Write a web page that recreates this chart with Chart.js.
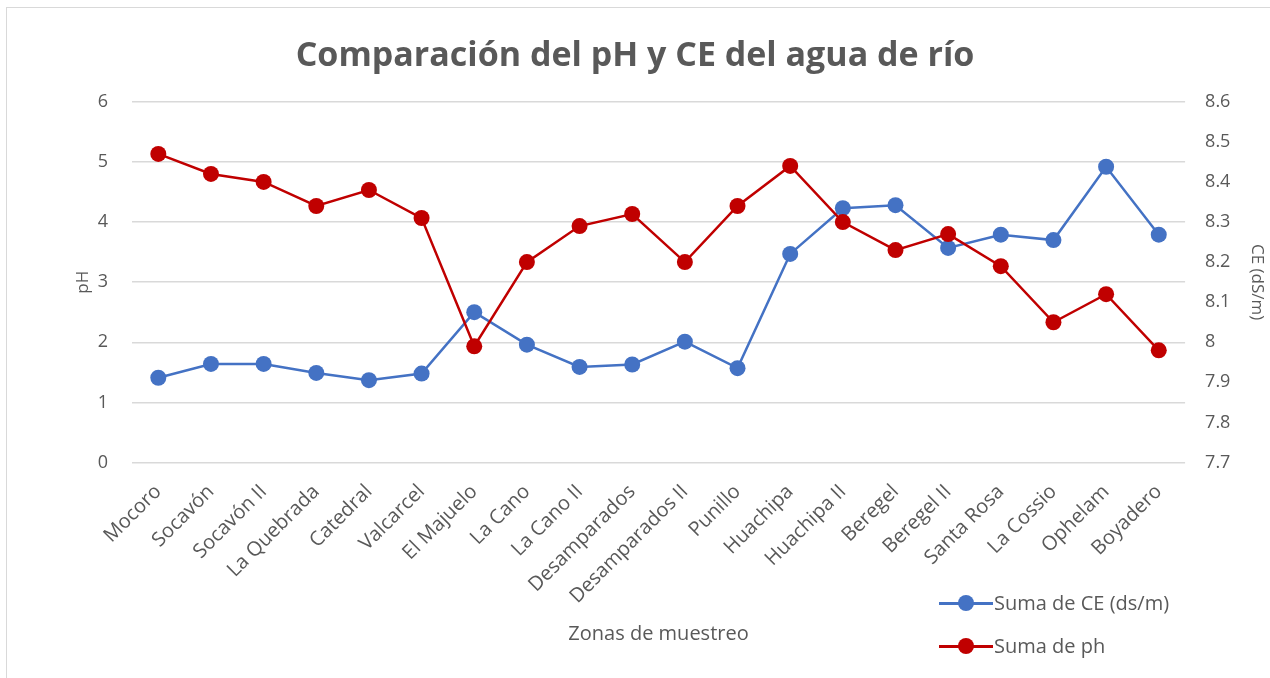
<!DOCTYPE html>
<html>
<head>
<meta charset="utf-8">
<script src="https://cdn.jsdelivr.net/npm/chart.js@4"></script>
<style>
  html, body { margin:0; padding:0; background:#fff; overflow:hidden; }
  #wrap { position:relative; width:1270px; height:678px; }
  #frame { position:absolute; left:6px; top:7px; width:1300px; height:700px; border:1px solid #d9d9d9; }
  #legend { position:absolute; left:939px; top:581px; font:20px "Open Sans", sans-serif; color:#595959; }
  #legend div { display:flex; align-items:center; height:43px; }
  #legend span.mk { position:relative; width:54px; height:16px; margin-right:1px; }
  #legend span.mk i { position:absolute; left:0; right:0; top:7px; height:3px; }
  #legend span.mk b { position:absolute; left:19px; top:0; width:16px; height:16px; border-radius:50%; }
</style>
</head>
<body>
<div id="wrap">
  <div id="frame"></div>
  <canvas id="c" width="1270" height="678"></canvas>
  <div id="legend"></div>
</div>
<script>
const zonas = ['Mocoro','Socavón','Socavón II','La Quebrada','Catedral','Valcarcel','El Majuelo','La Cano','La Cano II','Desamparados','Desamparados II','Punillo','Huachipa','Huachipa II','Beregel','Beregel II','Santa Rosa','La Cossio','Ophelam','Boyadero'];
const ce = [1.41,1.64,1.64,1.49,1.37,1.48,2.50,1.96,1.59,1.63,2.01,1.57,3.47,4.23,4.28,3.57,3.79,3.70,4.92,3.79];
const ph = [8.47,8.42,8.40,8.34,8.38,8.31,7.99,8.20,8.29,8.32,8.20,8.34,8.44,8.30,8.23,8.27,8.19,8.05,8.12,7.98];
const seriesNames = ['Suma de CE (ds/m)','Suma de ph'];
const colors = ['#4472C4','#C00000'];

const txt = '#595959';
const font = 'Open Sans';

new Chart(document.getElementById('c').getContext('2d'), {
  type: 'line',
  data: {
    labels: zonas,
    datasets: [
      { label: seriesNames[0], data: ce, yAxisID: 'y', order: 1,
        borderColor: colors[0], backgroundColor: colors[0], borderWidth: 2.5,
        pointRadius: 8, pointHoverRadius: 8, pointBorderWidth: 0 },
      { label: seriesNames[1], data: ph, yAxisID: 'y1', order: 0,
        borderColor: colors[1], backgroundColor: colors[1], borderWidth: 2.5,
        pointRadius: 8, pointHoverRadius: 8, pointBorderWidth: 0 }
    ]
  },
  options: {
    responsive: false, animation: false,
    layout: { padding: { left: 0, right: 0, top: 0, bottom: 28 } },
    plugins: {
      legend: { display: false },
      tooltip: { enabled: false },
      title: { display: true, text: 'Comparación del pH y CE del agua de río',
        color: txt, font: { family: font, size: 34, weight: 'bold' }, padding: { top: 36, bottom: 25 } }
    },
    scales: {
      x: {
        offset: true,
        grid: { display: false },
        border: { display: false },
        ticks: { color: txt, font: { family: font, size: 20 }, maxRotation: 45, minRotation: 45, autoSkip: false, padding: 9.5 },
        title: { display: true, text: 'Zonas de muestreo', color: txt, font: { family: font, size: 20 }, padding: { top: 4 } }
      },
      y: {
        position: 'left', min: 0, max: 6,
        ticks: { stepSize: 1, color: txt, font: { family: font, size: 18 }, padding: 24 },
        grid: { color: '#d9d9d9', lineWidth: 1.5, drawTicks: false },
        border: { display: false },
        title: { display: true, text: 'pH', color: txt, font: { family: font, size: 17 }, padding: { top: 72.8, bottom: -19.5 } }
      },
      y1: {
        position: 'right', min: 7.7, max: 8.6,
        ticks: { stepSize: 0.1, color: txt, font: { family: font, size: 18 }, padding: 20,
          callback: v => String(Number(v.toFixed(1))) },
        grid: { display: false, drawTicks: false },
        border: { display: false },
        title: { display: true, text: 'CE (dS/m)', color: txt, font: { family: font, size: 17 }, padding: { top: 2.8, bottom: -3.6 } }
      }
    }
  }
});

const lg = document.getElementById('legend');
seriesNames.forEach((n, i) => {
  const d = document.createElement('div');
  d.innerHTML = '<span class="mk"><i style="background:' + colors[i] + '"></i><b style="background:' + colors[i] + '"></b></span>' + n;
  lg.appendChild(d);
});
</script>
</body>
</html>
